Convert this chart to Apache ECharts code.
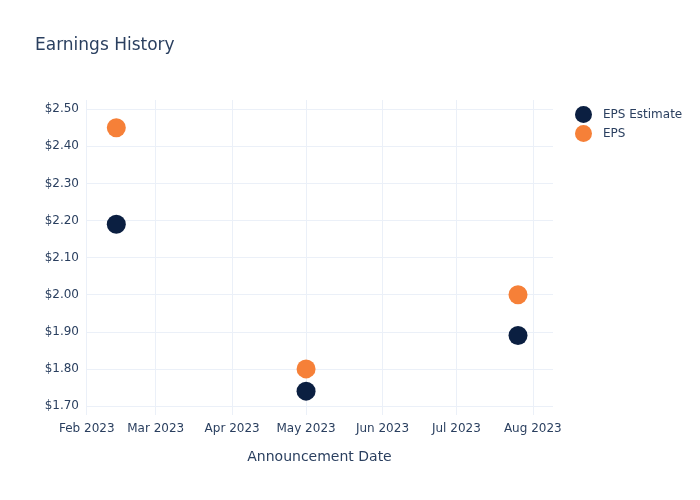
<!DOCTYPE html>
<html><head><meta charset="utf-8">
<script src="https://cdn.jsdelivr.net/npm/echarts@6/dist/echarts.min.js"></script>
<style>html,body{margin:0;padding:0;background:#fff}#c{width:700px;height:500px}</style>
</head><body><div id="c"></div>
<script>
const dates = ['2023-02-13', '2023-05-01', '2023-07-26'];
const epsEstimate = [2.19, 1.74, 1.89];
const eps = [2.45, 1.80, 2.00];
const monthTicks = ['2023-02-01','2023-03-01','2023-04-01','2023-05-01','2023-06-01','2023-07-01','2023-08-01'];
const yTicks = [1.7,1.8,1.9,2.0,2.1,2.2,2.3,2.4,2.5];

const ts = d => new Date(d + 'T00:00:00Z').getTime();
const MON = ['Jan','Feb','Mar','Apr','May','Jun','Jul','Aug','Sep','Oct','Nov','Dec'];
const tickTs = monthTicks.map(ts);
const font = 'DejaVu Sans';
const chart = echarts.init(document.getElementById('c'), null, {renderer:'canvas'});
chart.setOption({
  backgroundColor: '#fff',
  animation: false,
  title: {text: 'Earnings History', left: 30, top: 32, textStyle: {fontFamily: font, fontSize: 17, fontWeight: 'normal', color: '#2a3f5f'}},
  legend: {orient: 'vertical', left: 570, top: 101, itemWidth: 29, itemHeight: 17, itemGap: 2, icon: 'circle',
    textStyle: {fontFamily: font, fontSize: 12, color: '#2a3f5f'}, data: ['EPS Estimate', 'EPS']},
  grid: {left: 86, right: 147, top: 100, bottom: 85, containLabel: false},
  xAxis: {
    type: 'value', min: ts('2023-02-01') - 0.3*86400000, max: ts('2023-08-09') + 0.2*86400000,
    name: 'Announcement Date', nameLocation: 'middle', nameGap: 35,
    nameTextStyle: {fontFamily: font, fontSize: 14, color: '#2a3f5f'},
    axisLine: {show: false},
    axisTick: {show: false, customValues: tickTs},
    axisLabel: {customValues: tickTs, fontFamily: font, fontSize: 12, color: '#2a3f5f', margin: 8,
      formatter: v => { const d = new Date(v); return MON[d.getUTCMonth()] + ' ' + d.getUTCFullYear(); }},
    splitLine: {show: true, lineStyle: {color: '#ebf0f8', width: 1}}
  },
  yAxis: {
    type: 'value', min: 1.6757, max: 2.525,
    axisLine: {show: false}, axisTick: {show: false, customValues: yTicks},
    axisLabel: {customValues: yTicks, fontFamily: font, fontSize: 12, color: '#2a3f5f', margin: 7,
      formatter: v => '$' + v.toFixed(2)},
    splitLine: {show: true, lineStyle: {color: '#ebf0f8', width: 1}}
  },
  series: [
    {name: 'EPS Estimate', type: 'scatter', symbolSize: 19, itemStyle: {color: '#0b1f41', opacity: 1},
      data: dates.map((d, i) => [ts(d), epsEstimate[i]])},
    {name: 'EPS', type: 'scatter', symbolSize: 19, itemStyle: {color: '#f68038', opacity: 1},
      data: dates.map((d, i) => [ts(d), eps[i]])}
  ]
});
</script></body></html>
